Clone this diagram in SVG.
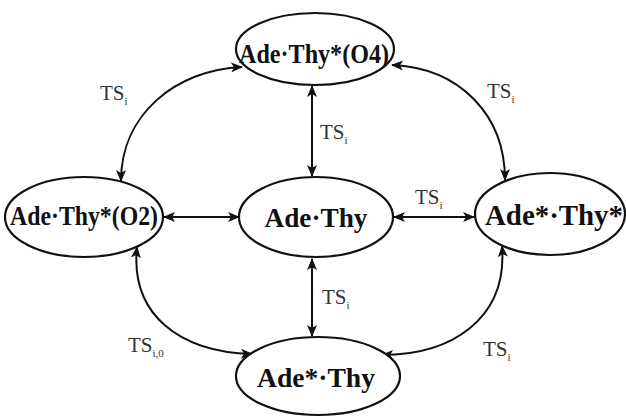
<svg xmlns="http://www.w3.org/2000/svg" width="626" height="417" viewBox="0 0 626 417">
<style>
.node ellipse{fill:#fff;stroke:#111;stroke-width:2.2}
.node text{font-weight:bold;fill:#111;text-anchor:middle}
.lbl{font-size:21px;fill:#333}
.sub{font-size:11px}
.conn path{fill:none;stroke:#111;stroke-width:2}
</style>
<defs>
<marker id="ah" viewBox="0 0 12 10" refX="11" refY="5" markerWidth="12" markerHeight="10" markerUnits="userSpaceOnUse" orient="auto-start-reverse">
<path d="M0,0 L12,5 L0,10 L3,5 Z" fill="#111"/>
</marker>
</defs>
<rect width="626" height="417" fill="#fff"/>
<g class="conn">
<path d="M312 86 L312 176" marker-start="url(#ah)" marker-end="url(#ah)"/>
<path d="M312 259 L312 336" marker-start="url(#ah)" marker-end="url(#ah)"/>
<path d="M164 217 L239 217" marker-start="url(#ah)" marker-end="url(#ah)"/>
<path d="M394 217 L474 217" marker-start="url(#ah)" marker-end="url(#ah)"/>
<path d="M242 67 C175 70 121 115 121 181" marker-start="url(#ah)" marker-end="url(#ah)"/>
<path d="M392 65 C460 68 505 115 505 180" marker-start="url(#ah)" marker-end="url(#ah)"/>
<path d="M137 247 C130 315 180 352 252 354" marker-start="url(#ah)" marker-end="url(#ah)"/>
<path d="M502 246 C508 320 450 355 382 355" marker-start="url(#ah)" marker-end="url(#ah)"/>
</g>
<g class="labels" font-family="Liberation Serif, Times New Roman, serif">
<text class="lbl" x="100" y="100">TS<tspan class="sub" dy="5">i</tspan></text>
<text class="lbl" x="487" y="98">TS<tspan class="sub" dy="5">i</tspan></text>
<text class="lbl" x="320" y="139">TS<tspan class="sub" dy="5">i</tspan></text>
<text class="lbl" x="415" y="204">TS<tspan class="sub" dy="5">i</tspan></text>
<text class="lbl" x="322" y="304">TS<tspan class="sub" dy="5">i</tspan></text>
<text class="lbl" x="128" y="352">TS<tspan class="sub" dy="5">i,0</tspan></text>
<text class="lbl" x="483" y="356">TS<tspan class="sub" dy="5">i</tspan></text>
</g>
<g id="n_top" class="node" font-family="Liberation Serif, Times New Roman, serif">
<ellipse cx="315" cy="49" rx="79" ry="36"/>
<text x="314" y="63" font-size="27" textLength="150" lengthAdjust="spacingAndGlyphs">Ade·Thy*(O4)</text>
</g>
<g id="n_left" class="node" font-family="Liberation Serif, Times New Roman, serif">
<ellipse cx="84" cy="217" rx="79" ry="40"/>
<text x="84" y="225" font-size="27" textLength="148" lengthAdjust="spacingAndGlyphs">Ade·Thy*(O2)</text>
</g>
<g id="n_center" class="node" font-family="Liberation Serif, Times New Roman, serif">
<ellipse cx="316" cy="217" rx="77" ry="40"/>
<text x="316" y="227" font-size="27" textLength="103" lengthAdjust="spacingAndGlyphs">Ade·Thy</text>
</g>
<g id="n_right" class="node" font-family="Liberation Serif, Times New Roman, serif">
<ellipse cx="550" cy="214" rx="75" ry="41"/>
<text x="554" y="225" font-size="29" textLength="138" lengthAdjust="spacingAndGlyphs">Ade*·Thy*</text>
</g>
<g id="n_bottom" class="node" font-family="Liberation Serif, Times New Roman, serif">
<ellipse cx="318" cy="376" rx="82" ry="39"/>
<text x="316" y="387" font-size="28" textLength="118" lengthAdjust="spacingAndGlyphs">Ade*·Thy</text>
</g>
</svg>
